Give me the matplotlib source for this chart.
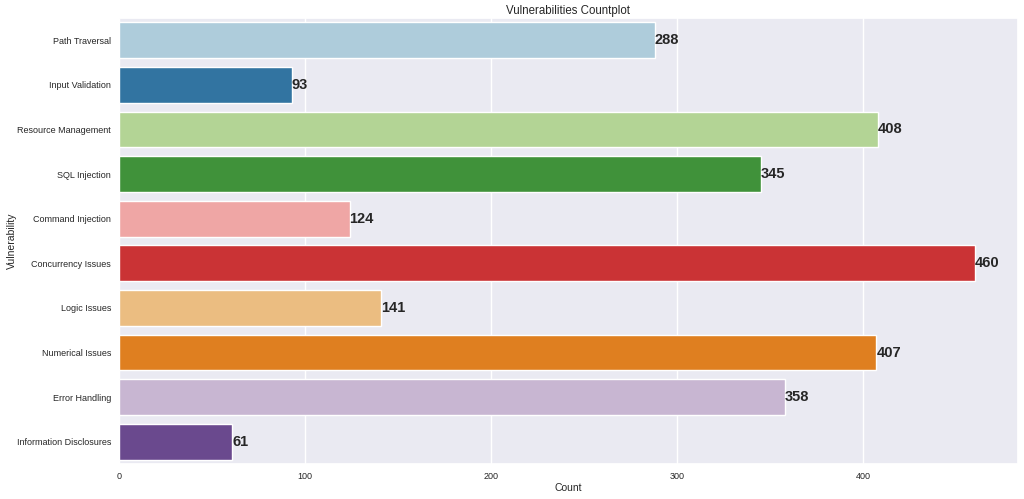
import matplotlib
matplotlib.use("Agg")
import matplotlib.pyplot as plt
import seaborn as sns
import pandas as pd

vulnerabilities = ["Path Traversal", "Input Validation", "Resource Management",
                   "SQL Injection", "Command Injection", "Concurrency Issues",
                   "Logic Issues", "Numerical Issues", "Error Handling",
                   "Information Disclosures"]
counts = [288, 93, 408, 345, 124, 460, 141, 407, 358, 61]

sns.set_theme(style="darkgrid")
plt.rcParams['font.family'] = ['Liberation Sans', 'DejaVu Sans']

df = pd.DataFrame({"Vulnerability": vulnerabilities, "Count": counts})

fig, ax = plt.subplots(figsize=(10.24, 4.99), dpi=100)
fig.subplots_adjust(left=0.116, right=0.994, top=0.964, bottom=0.07)

sns.barplot(data=df, x="Count", y="Vulnerability", hue="Vulnerability",
            palette="Paired", legend=False, ax=ax)

for c in ax.containers:
    ax.bar_label(c, fontsize=10.5, fontweight="bold", color="#262626")

ax.set_title("Vulnerabilities Countplot", fontsize=8.3, pad=3)
ax.set_xlabel("Count", fontsize=7.5, labelpad=2)
ax.set_ylabel("Vulnerability", fontsize=7.5)
ax.yaxis.set_label_coords(-0.113, 0.5)
ax.tick_params(axis="both", labelsize=6.5, length=0, pad=5.5)

fig.savefig("out.png", dpi=100)
